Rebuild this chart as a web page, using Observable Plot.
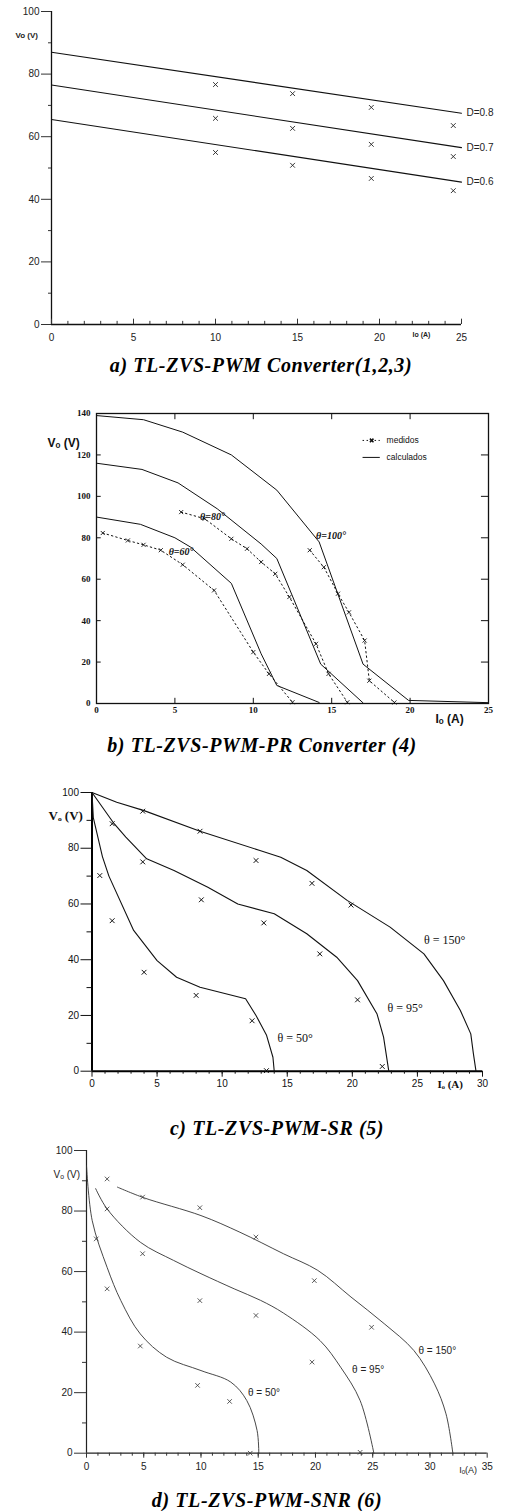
<!DOCTYPE html>
<html><head><meta charset="utf-8">
<script src="https://cdn.jsdelivr.net/npm/d3@7"></script>
<script src="https://cdn.jsdelivr.net/npm/@observablehq/plot@0.6"></script>
<style>
body{margin:0;background:#fff;}
#root{position:relative;width:505px;height:1511px;overflow:hidden;background:#fff;}
.panel{position:absolute;left:0;}
.panel svg{overflow:visible;}
.cap{position:absolute;width:500px;text-align:center;font-family:"Liberation Serif","Times New Roman",serif;font-weight:bold;font-style:italic;font-size:20px;letter-spacing:0.6px;line-height:20px;color:#000;white-space:nowrap;}
</style></head><body><div id="root"></div>
<script>
// ---------- Panel a: TL-ZVS-PWM Converter ----------
const aCaption = "a) TL-ZVS-PWM Converter(1,2,3)";
const aYTicks = [0, 20, 40, 60, 80, 100];
const aYMinor = [10, 30, 50, 70, 90];
const aXTicks = [0, 5, 10, 15, 20, 25];
const aXMinor = d3.range(1, 25);
const aSeries = ["D=0.8", "D=0.7", "D=0.6"];
const aCalcI = [0, 25];
const aCalcV = [[87, 67.5], [76.5, 56.5], [65.5, 45.5]];
const aMeasI = [10, 14.7, 19.5, 24.5];
const aMeasV = [[77.3, 74.4, 70.0, 64.2], [66.5, 63.3, 58.2, 54.3], [55.6, 51.5, 47.3, 43.4]];

// ---------- Panel b: TL-ZVS-PWM-PR Converter ----------
const bCaption = "b) TL-ZVS-PWM-PR Converter (4)";
const bYTicks = [0, 20, 40, 60, 80, 100, 120, 140];
const bXTicks = [0, 5, 10, 15, 20, 25];
const bSeries = ["θ=60°", "θ=80°", "θ=100°"];
const bCalcI = [
  [0, 2.8, 5.0, 6.0, 8.6, 10.5, 11.5, 14.2],
  [0, 2.9, 5.2, 7.7, 10.5, 11.5, 14.3, 17.0],
  [0, 3.0, 5.5, 8.6, 11.5, 14.2, 17.0, 19.9, 25]
];
const bCalcV = [
  [90, 86.5, 80, 75.5, 58, 24, 8.7, 0.5],
  [116, 113, 106.5, 94, 77, 70, 19, 0.3],
  [139, 137, 131, 120, 103, 78, 19, 1.5, 0.4]
];
const bMeasI = [
  [0.4, 2.0, 3.0, 4.1, 5.5, 7.5, 10.0, 11.0, 12.5],
  [5.4, 6.9, 8.6, 9.6, 10.5, 11.4, 12.3, 14.0, 14.8, 16.0],
  [13.6, 14.5, 15.4, 16.1, 17.1, 17.4, 19.0]
];
const bMeasV = [
  [82.3, 78.7, 76.6, 74, 67, 54.6, 24.8, 14.3, 0.6],
  [92.4, 89.2, 79.5, 74.7, 68.3, 62.6, 51.4, 28.8, 14.3, 0.6],
  [74, 65.8, 53, 44, 30.4, 11, 0.5]
];
const bLabelI = [4.6, 6.6, 14.0];
const bLabelV = [73, 90, 81];
const bLegend = ["medidos", "calculados"];

// ---------- Panel c: TL-ZVS-PWM-SR ----------
const cCaption = "c) TL-ZVS-PWM-SR (5)";
const cYTicks = [0, 20, 40, 60, 80, 100];
const cYMinor = [10, 30, 50, 70, 90];
const cXTicks = [0, 5, 10, 15, 20, 25, 30];
const cXMinor = d3.range(1, 30);
const cSeries = ["θ = 50°", "θ = 95°", "θ = 150°"];
const cCalcI = [
  [0, 0.1, 0.8, 1.3, 3.2, 5.0, 6.5, 8.3, 11.8, 12.6, 13.4, 13.9, 14.0],
  [0, 1.7, 2.6, 4.2, 6.3, 8.9, 11.2, 14.0, 16.5, 18.8, 20.4, 21.9, 22.4, 22.8],
  [0, 1.9, 4.0, 8.3, 12.9, 14.5, 16.5, 19.6, 22.9, 25.5, 27.0, 28.3, 29.1, 29.3, 29.5]
];
const cCalcV = [
  [100, 91, 77, 70, 50.5, 39.7, 33.7, 30.1, 26, 20, 13, 5, 0],
  [100, 88.8, 84, 76.2, 72, 66, 60, 56.5, 49.3, 40.9, 32.5, 20.5, 12.2, 0],
  [100, 96.5, 93.5, 86.1, 79.2, 76.8, 72, 61.3, 51.7, 42.1, 32.5, 21.8, 13.4, 6.3, 0]
];
const cMeasI = [
  [0.6, 1.55, 4.0, 8.0, 12.3, 13.4],
  [1.55, 3.9, 8.4, 13.2, 17.5, 20.4, 22.3],
  [3.9, 8.3, 12.6, 16.9, 19.9]
];
const cMeasV = [
  [70.2, 54, 35.5, 27.2, 18.1, 0.2],
  [88.8, 75.1, 61.5, 53.2, 42.1, 25.6, 1.7],
  [93.3, 86.1, 75.6, 67.4, 59.6]
];
const cLabelI = [14.25, 22.7, 25.5];
const cLabelV = [11.7, 22.5, 46.9];

// ---------- Panel d: TL-ZVS-PWM-SNR ----------
const dCaption = "d) TL-ZVS-PWM-SNR (6)";
const dYTicks = [0, 20, 40, 60, 80, 100];
const dYMinor = [10, 30, 50, 70, 90];
const dXTicks = [0, 5, 10, 15, 20, 25, 30, 35];
const dXMinor = d3.range(1, 35);
const dSeries = ["θ = 50°", "θ = 95°", "θ = 150°"];
const dCalcI = [
  [0, 0.5, 1.8, 3.0, 4.7, 7.0, 10.0, 12.6, 14.0, 14.9, 15.05],
  [0.8, 1.8, 4.7, 7.6, 10.0, 12.9, 15.2, 17.2, 20.4, 22.2, 23.9, 25.1],
  [2.7, 5.0, 10.0, 13.4, 17.2, 20.2, 23.1, 26.0, 28.6, 30.4, 31.4, 32.0]
];
const dCalcV = [
  [95, 76.8, 61.4, 50.4, 39.4, 31.7, 27.3, 23.5, 17.4, 7.5, 0],
  [87.4, 80.7, 69.7, 63.7, 59.3, 54.3, 50.5, 46.3, 37.2, 28.4, 17.4, 0],
  [87.9, 84.4, 78.5, 73, 65.9, 60.4, 51.6, 42.8, 33.9, 22.9, 13, 0]
];
const dMeasI = [
  [0.85, 1.8, 4.7, 9.7, 12.5, 14.3],
  [1.8, 4.9, 9.9, 14.8, 19.7, 23.9],
  [1.8, 4.9, 9.9, 14.8, 19.9, 24.9]
];
const dMeasV = [
  [70.8, 54.3, 35.4, 22.4, 17.1, 0],
  [80.7, 65.9, 50.4, 45.5, 30.1, 0.3],
  [90.6, 84.6, 81.1, 71.4, 57, 41.6]
];
const dLabelI = [14.1, 23.2, 29.0];
const dLabelV = [20, 27.6, 33.9];

// ---------- helpers ----------
function rows(series, xsList, ysList) {
  const out = [];
  series.forEach((s, k) => {
    const xs = Array.isArray(xsList[0]) ? xsList[k] : xsList;
    xs.forEach((x, i) => out.push({s, x, y: ysList[k][i]}));
  });
  return out;
}
const root = document.getElementById("root");
function place(svg, top) {
  const d = document.createElement("div");
  d.className = "panel";
  d.style.top = top + "px";
  d.appendChild(svg);
  root.appendChild(d);
}
function caption(text, cx, top) {
  const d = document.createElement("div");
  d.className = "cap";
  d.style.left = (cx - 250) + "px";
  d.style.top = top + "px";
  d.textContent = text;
  root.appendChild(d);
}
const sans = "'Liberation Sans', Arial, sans-serif";
const serif = "'Liberation Serif', 'Times New Roman', serif";

// ---------- Panel a ----------
{
  const calc = rows(aSeries, aCalcI, aCalcV);
  const meas = rows(aSeries, aMeasI, aMeasV);
  const lab = aSeries.map((s, k) => ({s, y: aCalcV[k][1]}));
  place(Plot.plot({
    width: 505, height: 342, marginTop: 11, marginBottom: 18, marginLeft: 51, marginRight: 44,
    x: {domain: [0, 25]}, y: {domain: [0, 100]},
    style: {fontFamily: sans, fontSize: "10px", color: "#222", background: "transparent"},
    marks: [
      Plot.ruleX([0], {stroke: "#111", strokeWidth: 1.3}),
      Plot.ruleY([0], {stroke: "#111", strokeWidth: 1.3}),
      Plot.axisY({ticks: aYTicks, tickSize: 10, tickPadding: 2, label: null, stroke: "#333"}),
      Plot.axisY({ticks: aYMinor, tickSize: 3, tickFormat: () => "", label: null, stroke: "#333"}),
      Plot.axisX({ticks: aXTicks, tickSize: 0, tickPadding: 9, label: null}),
      Plot.ruleX(aXTicks, {x: d => d, y1: 0, y2: 1.7, stroke: "#333"}),
      Plot.ruleX(aXMinor, {x: d => d, y1: 0, y2: 1.0, stroke: "#333"}),
      Plot.line(calc, {x: "x", y: "y", z: "s", stroke: "#111", strokeWidth: 1.1}),
      Plot.dot(meas, {x: "x", y: "y", dy: 2, symbol: "times", r: 2.3, stroke: "#222", strokeWidth: 0.9}),
      Plot.text(lab, {x: 25, y: "y", text: "s", dx: 5, textAnchor: "start", fontSize: 10}),
      Plot.text(["Vo (V)"], {text: d => d, frameAnchor: "top-left", dx: -36, dy: 21, textAnchor: "start", fontWeight: "bold", fontSize: 8}),
      Plot.text(["Io (A)"], {text: d => d, frameAnchor: "bottom-right", dx: -49, dy: 12, textAnchor: "start", fontWeight: "bold", fontSize: 7})
    ]
  }), 0);
  caption(aCaption, 261, 355);
}

// ---------- Panel b ----------
{
  const calc = rows(bSeries, bCalcI, bCalcV);
  const meas = rows(bSeries, bMeasI, bMeasV);
  const lab = bSeries.map((s, k) => ({s, x: bLabelI[k], y: bLabelV[k]}));
  const inner = bXTicks.slice(1, -1);
  const innerY = bYTicks.slice(1, -1);
  place(Plot.plot({
    width: 505, height: 350, marginTop: 33, marginBottom: 27, marginLeft: 96, marginRight: 17,
    x: {domain: [0, 25]}, y: {domain: [0, 140]},
    style: {fontFamily: serif, fontSize: "9px", color: "#111", background: "transparent"},
    marks: [
      Plot.frame({stroke: "#111", strokeWidth: 1.3}),
      Plot.axisY({ticks: bYTicks, tickSize: 0, tickPadding: 6, label: null, fontWeight: "bold"}),
      Plot.axisX({ticks: bXTicks, tickSize: 0, tickPadding: 3, label: null, fontWeight: "bold"}),
      Plot.ruleY(innerY, {y: d => d, x1: 0, x2: 0.3, stroke: "#111"}),
      Plot.ruleY(innerY, {y: d => d, x1: 24.55, x2: 25, stroke: "#111"}),
      Plot.ruleX(inner, {x: d => d, y1: 140, y2: 137, stroke: "#111"}),
      Plot.ruleX(inner, {x: d => d, y1: 0, y2: 2.5, stroke: "#111"}),
      Plot.line(calc, {x: "x", y: "y", z: "s", stroke: "#111", strokeWidth: 1}),
      Plot.line(meas, {x: "x", y: "y", z: "s", stroke: "#111", strokeWidth: 1, strokeDasharray: "1.5,3"}),
      Plot.dot(meas, {x: "x", y: "y", symbol: "times", r: 2, stroke: "#111", strokeWidth: 0.9}),
      Plot.text(lab, {x: "x", y: "y", text: "s", textAnchor: "start", fontSize: 10, fontWeight: "bold", fontStyle: "italic"}),
      Plot.text(["Vₒ (V)"], {text: d => d, frameAnchor: "top-left", dx: -49, dy: 25, textAnchor: "start", fontWeight: "bold", fontSize: 12, fontFamily: sans}),
      Plot.text(["Iₒ (A)"], {text: d => d, frameAnchor: "bottom-right", dx: -53, dy: 19, textAnchor: "start", fontWeight: "bold", fontSize: 12, fontFamily: sans}),
      // legend
      Plot.ruleY([127], {x1: 17.0, x2: 18.1, stroke: "#111", strokeDasharray: "1.5,2.5"}),
      Plot.dot([127], {x: 17.55, y: d => d, symbol: "times", r: 1.8, stroke: "#111"}),
      Plot.ruleY([118.8], {x1: 17.0, x2: 18.1, stroke: "#111"}),
      Plot.text(bLegend, {x: 18.5, y: (d, i) => [127, 118.8][i], text: d => d, textAnchor: "start", fontSize: 8.5, fontFamily: sans})
    ]
  }), 380);
  caption(bCaption, 262, 735);
}

// ---------- Panel c ----------
{
  const calc = rows(cSeries, cCalcI, cCalcV);
  const meas = rows(cSeries, cMeasI, cMeasV);
  const lab = cSeries.map((s, k) => ({s, x: cLabelI[k], y: cLabelV[k]}));
  place(Plot.plot({
    width: 505, height: 330, marginTop: 27, marginBottom: 24.3, marginLeft: 91.5, marginRight: 23,
    x: {domain: [0, 30]}, y: {domain: [0, 100]},
    style: {fontFamily: sans, fontSize: "10px", color: "#111", background: "transparent"},
    marks: [
      Plot.ruleX([0], {stroke: "#000", strokeWidth: 2}),
      Plot.ruleY([0], {stroke: "#000", strokeWidth: 2}),
      Plot.axisY({ticks: cYTicks, tickSize: 11, tickPadding: 2, label: null, stroke: "#111"}),
      Plot.axisY({ticks: cYMinor, tickSize: 5, tickFormat: () => "", label: null, stroke: "#111"}),
      Plot.axisX({ticks: cXTicks, tickSize: 6, tickPadding: 3, label: null, stroke: "#111"}),
      Plot.axisX({ticks: cXMinor, tickSize: 3, tickFormat: () => "", label: null, stroke: "#111"}),
      Plot.line(calc, {x: "x", y: "y", z: "s", stroke: "#111", strokeWidth: 1.1}),
      Plot.dot(meas, {x: "x", y: "y", symbol: "times", r: 2.3, stroke: "#111", strokeWidth: 1}),
      Plot.text(lab, {x: "x", y: "y", text: "s", textAnchor: "start", fontSize: 12, fontFamily: serif}),
      Plot.text(["Vₒ (V)"], {text: d => d, frameAnchor: "top-left", dx: -43.5, dy: 18, textAnchor: "start", fontWeight: "bold", fontSize: 13, fontFamily: serif}),
      Plot.text(["Iₒ (A)"], {text: d => d, frameAnchor: "bottom-right", dx: -45, dy: 17, textAnchor: "start", fontWeight: "bold", fontSize: 11, fontFamily: serif})
    ]
  }), 765);
  caption(cCaption, 277, 1118);
}

// ---------- Panel d ----------
{
  const calc = rows(dSeries, dCalcI, dCalcV);
  const meas = rows(dSeries, dMeasI, dMeasV);
  const lab = dSeries.map((s, k) => ({s, x: dLabelI[k], y: dLabelV[k]}));
  place(Plot.plot({
    width: 505, height: 345, marginTop: 10, marginBottom: 32.3, marginLeft: 86, marginRight: 18.3,
    x: {domain: [0, 35]}, y: {domain: [0, 100]},
    style: {fontFamily: sans, fontSize: "10px", color: "#222", background: "transparent"},
    marks: [
      Plot.ruleX([0], {stroke: "#222", strokeWidth: 1.2}),
      Plot.ruleY([0], {stroke: "#222", strokeWidth: 1.2}),
      Plot.axisY({ticks: dYTicks, tickSize: 12, tickPadding: 2, label: null, stroke: "#333"}),
      Plot.axisY({ticks: dYMinor, tickSize: 4, tickFormat: () => "", label: null, stroke: "#333"}),
      Plot.axisX({ticks: dXTicks, tickSize: 5, tickPadding: 5, label: null, stroke: "#333"}),
      Plot.axisX({ticks: dXMinor, tickSize: 3, tickFormat: () => "", label: null, stroke: "#333"}),
      Plot.line(calc, {x: "x", y: "y", z: "s", stroke: "#333", strokeWidth: 0.9, curve: "catmull-rom"}),
      Plot.dot(meas, {x: "x", y: "y", symbol: "times", r: 2.2, stroke: "#333", strokeWidth: 0.8}),
      Plot.text(lab, {x: "x", y: "y", text: "s", textAnchor: "start", fontSize: 10}),
      Plot.text(["Vₒ (V)"], {text: d => d, frameAnchor: "top-left", dx: -33, dy: 20, textAnchor: "start", fontSize: 10}),
      Plot.text(["Iₒ(A)"], {text: d => d, frameAnchor: "bottom-right", dx: -28, dy: 20, textAnchor: "start", fontSize: 9})
    ]
  }), 1140);
  caption(dCaption, 267, 1490);
}
</script>
</body></html>
